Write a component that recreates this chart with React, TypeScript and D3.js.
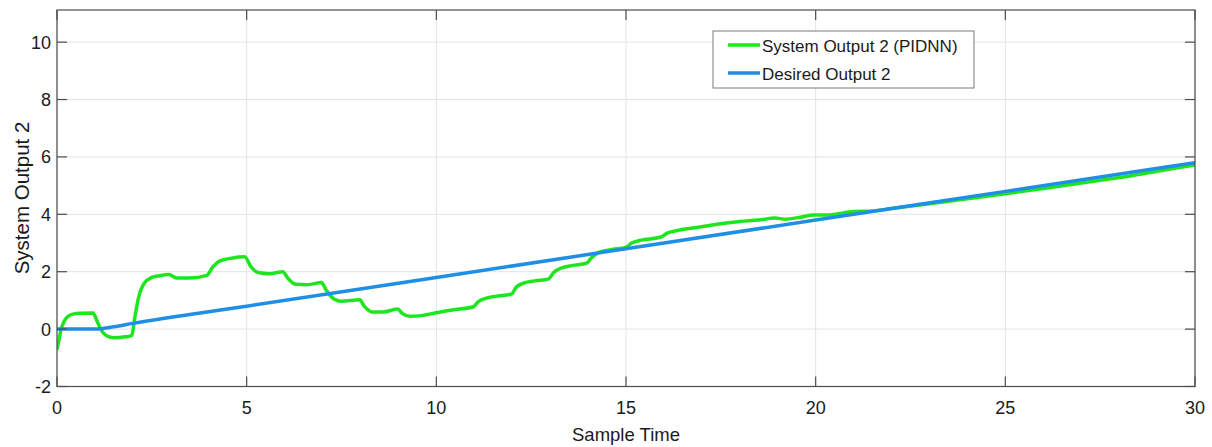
import React from "react";
import * as d3 from "d3";

const W = 1212;
const H = 447;

const xTicks = [0, 5, 10, 15, 20, 25, 30];
const yTicks = [-2, 0, 2, 4, 6, 8, 10];

const outputTime = [0, 0.05, 0.1, 0.2, 0.3, 0.45, 0.6, 0.95, 1.05, 1.15, 1.3, 1.5, 1.8, 1.97, 2.05, 2.15, 2.3, 2.5, 2.7, 2.95, 3.15, 3.5, 3.95, 4.1, 4.3, 4.6, 4.95, 5.1, 5.3, 5.6, 5.95, 6.1, 6.3, 6.6, 6.97, 7.1, 7.3, 7.5, 7.98, 8.1, 8.3, 8.6, 8.98, 9.1, 9.3, 9.6, 10.0, 10.5, 10.98, 11.1, 11.3, 11.6, 11.98, 12.1, 12.3, 12.6, 12.95, 13.1, 13.3, 13.6, 13.96, 14.1, 14.3, 14.6, 15.0, 15.15, 15.4, 15.9, 16.1, 16.4, 17, 17.5, 18, 18.5, 18.93, 19.2, 19.6, 19.94, 20.3, 21.0, 21.5, 22, 23, 24, 25, 26, 27, 28, 29, 30];
const outputValue = [-0.72, -0.4, -0.05, 0.3, 0.45, 0.53, 0.55, 0.56, 0.3, 0.0, -0.22, -0.3, -0.27, -0.23, 0.4, 1.1, 1.6, 1.8, 1.86, 1.9, 1.78, 1.78, 1.87, 2.15, 2.38, 2.47, 2.52, 2.2, 1.97, 1.93, 2.0, 1.75, 1.56, 1.55, 1.62, 1.35, 1.05, 0.97, 1.02, 0.8, 0.6, 0.6, 0.7, 0.55, 0.45, 0.47, 0.57, 0.68, 0.78, 0.95, 1.07, 1.15, 1.22, 1.45, 1.6, 1.68, 1.74, 1.98, 2.13, 2.22, 2.3, 2.5, 2.68, 2.77, 2.85, 3.0, 3.1, 3.2, 3.35, 3.45, 3.57, 3.67, 3.75, 3.8, 3.87, 3.83, 3.9, 3.98, 3.98, 4.1, 4.12, 4.2, 4.37, 4.54, 4.72, 4.9, 5.09, 5.28, 5.5, 5.72];

const desiredTime = [0, 0.5, 1, 1.25, 1.5, 2, 5, 10, 15, 20, 25, 30];
const desiredValue = [0, 0, 0, 0.03, 0.08, 0.2, 0.8, 1.8, 2.8, 3.8, 4.8, 5.8];

const legendLabels = ["System Output 2 (PIDNN)", "Desired Output 2"];
const GREEN = "#1ee61e";
const BLUE = "#1f8fe5";

export default function App() {
  const left = 57, right = 1195, top = 10, bottom = 386.5;
  const x = d3.scaleLinear().domain([0, 30]).range([left, right]);
  const y = d3.scaleLinear().domain([-2, 11.12]).range([bottom, top]);

  const line = d3
    .line<[number, number]>()
    .x((d) => x(d[0]))
    .y((d) => y(d[1]))
    .curve(d3.curveMonotoneX);

  const green = line(outputTime.map((t, i) => [t, outputValue[i]] as [number, number])) || "";
  const blue = line(desiredTime.map((t, i) => [t, desiredValue[i]] as [number, number])) || "";

  const font = "'Liberation Sans', Arial, sans-serif";
  const tickLen = 10;
  const txt = "#1a1a1a";

  return (
    <svg width={W} height={H} style={{ position: "absolute", left: 0, top: 0, background: "#fff" }}>
      <defs>
        <clipPath id="plotclip">
          <rect x={left} y={top} width={right - left} height={bottom - top} />
        </clipPath>
      </defs>
      {/* grid */}
      {xTicks.map((t) => (
        <line key={"gx" + t} x1={x(t)} x2={x(t)} y1={top} y2={bottom} stroke="#e3e3e3" strokeWidth={1} />
      ))}
      {yTicks.map((t) => (
        <line key={"gy" + t} x1={left} x2={right} y1={y(t)} y2={y(t)} stroke="#e3e3e3" strokeWidth={1} />
      ))}
      {/* lines */}
      <g clipPath="url(#plotclip)">
        <path d={green} fill="none" stroke={GREEN} strokeWidth={3.5} strokeLinejoin="round" />
        <path d={blue} fill="none" stroke={BLUE} strokeWidth={3.5} strokeLinejoin="round" />
      </g>
      {/* box */}
      <rect x={left} y={top} width={right - left} height={bottom - top} fill="none" stroke="#4d4d4d" strokeWidth={1.2} />
      {/* ticks */}
      {xTicks.map((t) => (
        <g key={"tx" + t}>
          <line x1={x(t)} x2={x(t)} y1={bottom} y2={bottom - tickLen} stroke="#4d4d4d" strokeWidth={1.2} />
          <line x1={x(t)} x2={x(t)} y1={top} y2={top + tickLen} stroke="#4d4d4d" strokeWidth={1.2} />
          <text x={x(t)} y={414} textAnchor="middle" fontFamily={font} fontSize={18} fill={txt}>
            {t}
          </text>
        </g>
      ))}
      {yTicks.map((t) => (
        <g key={"ty" + t}>
          <line x1={left} x2={left + tickLen} y1={y(t)} y2={y(t)} stroke="#4d4d4d" strokeWidth={1.2} />
          <line x1={right} x2={right - tickLen} y1={y(t)} y2={y(t)} stroke="#4d4d4d" strokeWidth={1.2} />
          <text x={51} y={y(t) + 6.5} textAnchor="end" fontFamily={font} fontSize={18} fill={txt}>
            {t}
          </text>
        </g>
      ))}
      {/* axis titles */}
      <text x={x(15)} y={441} textAnchor="middle" fontFamily={font} fontSize={18.5} fill={txt}>
        Sample Time
      </text>
      <text
        transform={`translate(29, ${198}) rotate(-90)`}
        textAnchor="middle"
        fontFamily={font}
        fontSize={20.5}
        fill={txt}
      >
        System Output 2
      </text>
      {/* legend */}
      <g>
        <rect x={713} y={31} width={261} height={57} fill="#fff" stroke="#7a7a7a" strokeWidth={1} />
        {legendLabels.map((lab, i) => (
          <g key={lab}>
            <line x1={728} x2={760} y1={45 + i * 28} y2={45 + i * 28} stroke={i === 0 ? GREEN : BLUE} strokeWidth={3.5} />
            <text x={762} y={45 + i * 28 + 6.5} fontFamily={font} fontSize={17} fill={txt}>
              {lab}
            </text>
          </g>
        ))}
      </g>
    </svg>
  );
}
